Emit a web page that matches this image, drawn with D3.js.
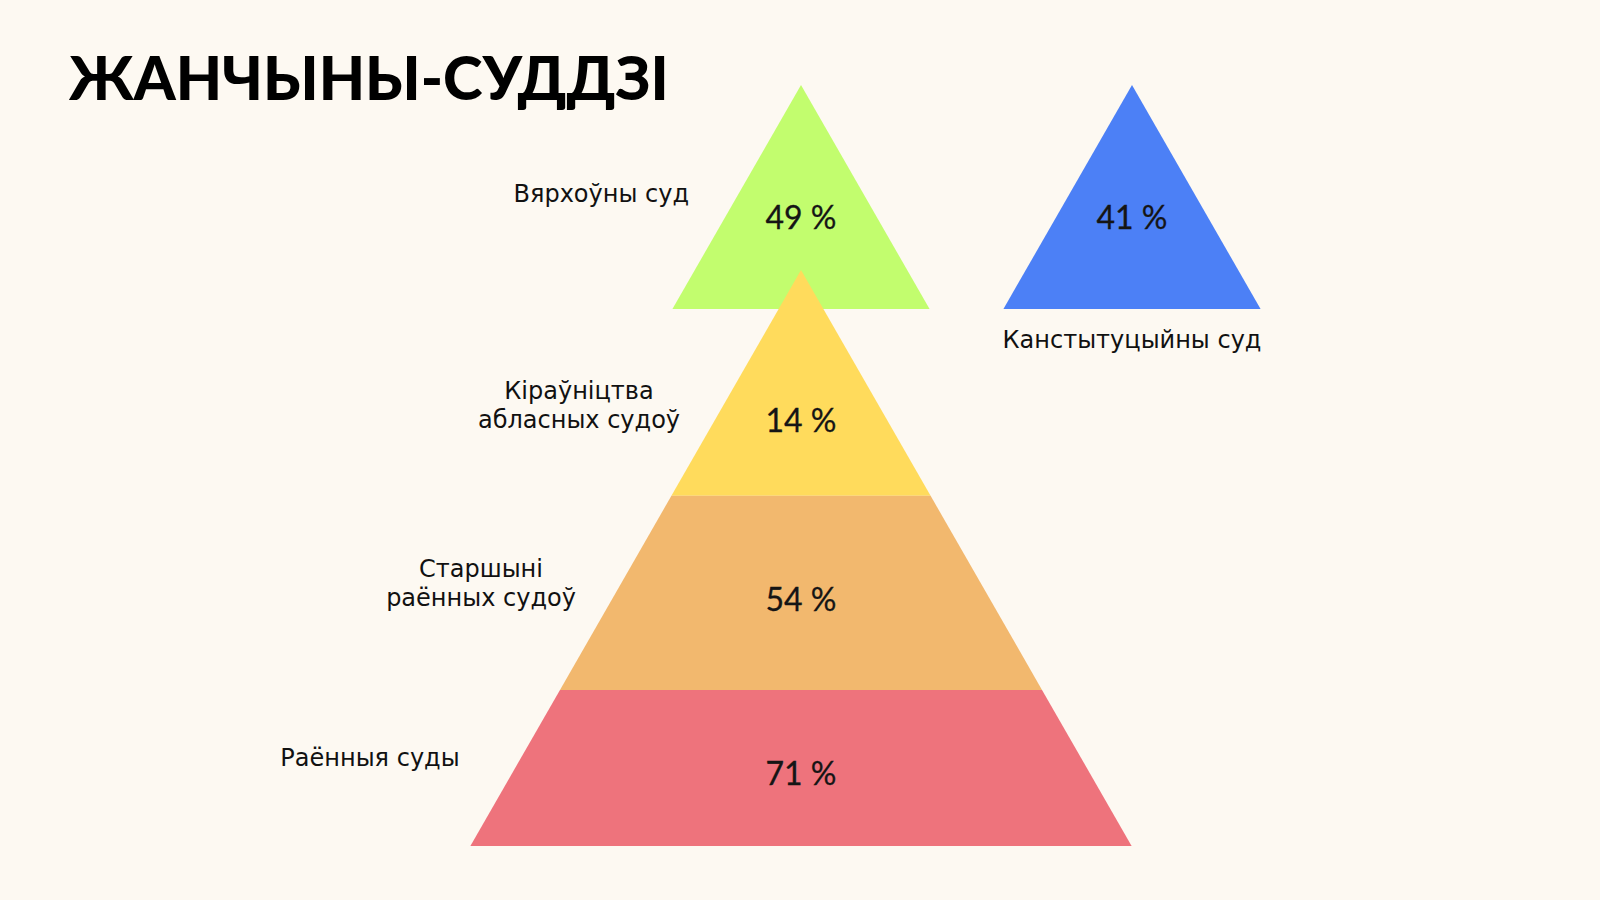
<!DOCTYPE html>
<html lang="be">
<head>
    <meta charset="UTF-8">
    <title>Жанчыны-суддзі</title>
    <script src="https://d3js.org/d3.v7.min.js"></script>
    <style>
        body {
            margin: 0;
            background: #fdf9f2;
        }

        .title {
            font-family: Lato, "Open Sans", sans-serif;
            font-weight: 900;
            font-size: 60px;
            fill: #000;
        }

        .court {
            font-family: "DejaVu Sans", sans-serif;
            font-size: 24px;
            fill: #111;
        }

        .pct {
            font-family: Lato, "Open Sans", sans-serif;
            font-size: 32px;
            fill: #151515;
            stroke: #151515;
            stroke-width: 0.3px;
        }
    </style>
</head>

<body>
<div id="fig"></div>
<script>
    // top triangles
    let top_courts = ["Вярхоўны суд", "Канстытуцыйны суд"]
    let top_values = [49, 41]
    let top_colors = ["#c2fd6e", "#4c80f6"]

    // pyramid, from the tip down
    let tier_courts = [["Кіраўніцтва", "абласных судоў"], ["Старшыні", "раённых судоў"], ["Раённыя суды"]]
    let tier_values = [14, 54, 71]
    let tier_colors = ["#ffdb5c", "#f2b86e", "#ee737c"]
    let tier_breaks = [0, 0.392, 0.729, 1]   // share of pyramid height

    let w = 1600, h = 900

    let svg = d3.select("#fig").append("svg")
        .attr("width", w)
        .attr("height", h)

    svg.append("rect").attr("width", w).attr("height", h).attr("fill", "#fdf9f2")

    svg.append("text").attr("class", "title")
        .attr("x", 69).attr("y", 100)
        .text("ЖАНЧЫНЫ-СУДДЗІ")

    let slope = 0.574  // half width per unit of height

    //////////////////////// small triangles
    let topX = d3.scaleOrdinal().domain(top_courts).range([801, 1132])
    let topY = d3.scaleLinear().domain([0, 1]).range([85, 309])
    let topH = topY(1) - topY(0)

    function tri(cx) {
        let hw = topH * slope
        return `M${cx},${topY(0)}L${cx + hw},${topY(1)}L${cx - hw},${topY(1)}Z`
    }

    svg.selectAll(".top")
        .data(top_courts)
        .enter()
        .append("path")
        .attr("d", d => tri(topX(d)))
        .attr("fill", (d, i) => top_colors[i])

    svg.selectAll(".toppct")
        .data(top_values)
        .enter()
        .append("text").attr("class", "pct")
        .attr("x", (d, i) => topX(top_courts[i]))
        .attr("y", topY(0.585) + 13)
        .attr("text-anchor", "middle")
        .text(d => d + " %")

    // Вярхоўны суд on the left, Канстытуцыйны суд under its triangle
    svg.append("text").attr("class", "court")
        .attr("x", 689).attr("y", topY(0.522))
        .attr("text-anchor", "end")
        .text(top_courts[0])
    svg.append("text").attr("class", "court")
        .attr("x", topX(top_courts[1])).attr("y", topY(1) + 39)
        .attr("text-anchor", "middle")
        .text(top_courts[1])

    //////////////////////// pyramid
    let cx = 801
    let pyY = d3.scaleLinear().domain([0, 1]).range([270, 846])
    let pyW = d3.scaleLinear().domain([0, 1]).range([0, (846 - 270) * slope])

    function band(a, b) {
        return `M${cx - pyW(a)},${pyY(a)}L${cx + pyW(a)},${pyY(a)}` +
            `L${cx + pyW(b)},${pyY(b)}L${cx - pyW(b)},${pyY(b)}Z`
    }

    svg.selectAll(".tier")
        .data(tier_values)
        .enter()
        .append("path")
        .attr("d", (d, i) => band(tier_breaks[i], tier_breaks[i + 1]))
        .attr("fill", (d, i) => tier_colors[i])

    function mid(i) {
        let a = tier_breaks[i], b = tier_breaks[i + 1]
        return a + (b - a) * (i === 0 ? 0.66 : 0.525)
    }

    svg.selectAll(".tierpct")
        .data(tier_values)
        .enter()
        .append("text").attr("class", "pct")
        .attr("x", cx)
        .attr("y", (d, i) => pyY(mid(i)) + 13)
        .attr("text-anchor", "middle")
        .text(d => d + " %")

    // labels left of the pyramid
    let labelX = [579, 481, 370]
    let labelY = [399, 577, 766]

    tier_courts.forEach(function (lines, i) {
        let t = svg.append("text").attr("class", "court")
            .attr("text-anchor", "middle")
        lines.forEach(function (line, j) {
            t.append("tspan")
                .attr("x", labelX[i])
                .attr("y", labelY[i] + j * 29)
                .text(line)
        })
    })
</script>
</body>
</html>
